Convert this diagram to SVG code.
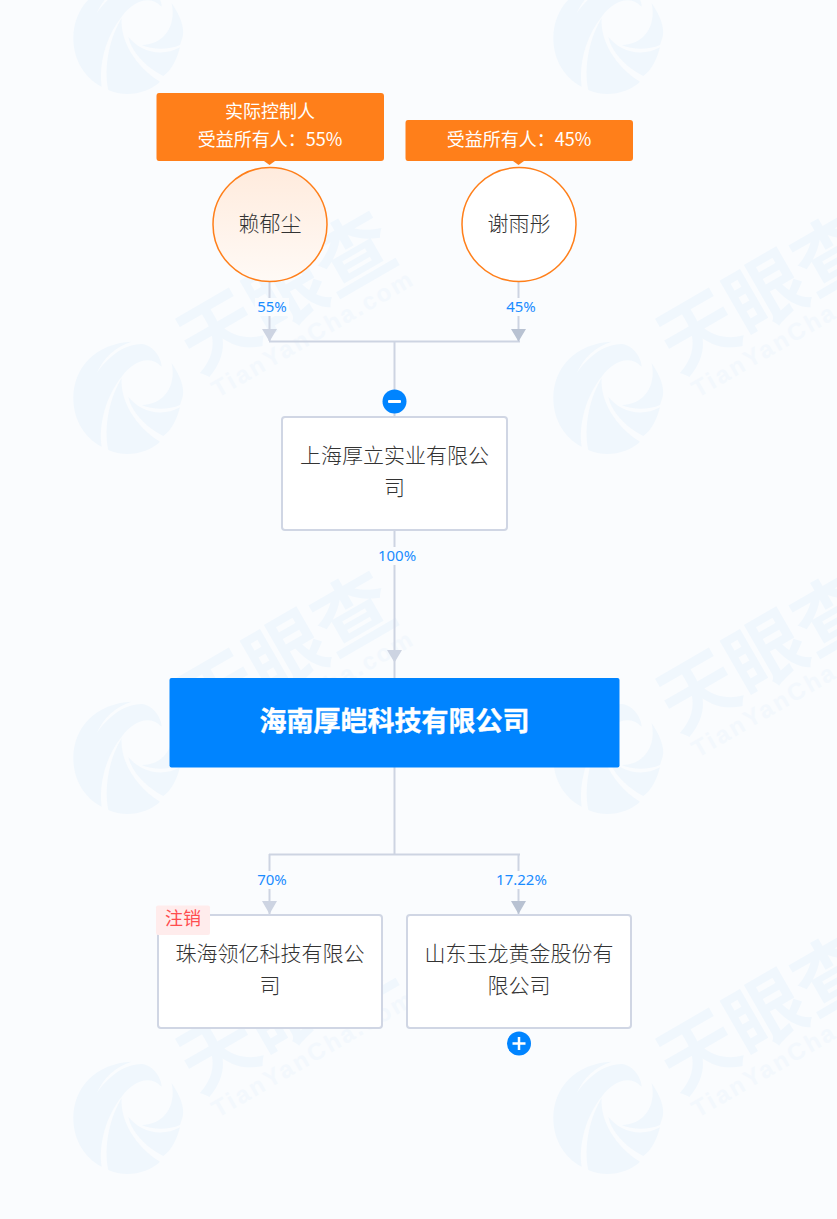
<svg xmlns="http://www.w3.org/2000/svg" width="837" height="1219" viewBox="0 0 837 1219">
<style>
text{font-family:"Microsoft YaHei","Noto Sans CJK SC","Noto Sans",sans-serif;text-anchor:middle}
.n{fill:#fff;stroke:#d0d6e4;stroke-width:2}
.t{font-size:21px;fill:#333;font-weight:300}
.w{font-size:18px;fill:#fff}
.p{font-size:15px;fill:#1a8cff;font-family:"Noto Sans","Noto Sans CJK SC",sans-serif}
.l{fill:none;stroke:#cdd4e2;stroke-width:2}
.a{fill:#cdd4e2}
.a2{fill:#b8c2d2}
.b{fill:#ff7f1a}
.wm1{font-size:78px;font-weight:700;fill:#f0f7fd;font-family:"Noto Sans CJK SC",sans-serif}
.wm2{font-size:24px;font-weight:700;fill:#f3f8fd;letter-spacing:2.600px;font-family:"Liberation Sans",sans-serif}
</style>
<defs>
<linearGradient id="g" x1="0" y1="0" x2="0" y2="1"><stop offset="0" stop-color="#ffebdd"/><stop offset="1" stop-color="#fffaf6"/></linearGradient>
<g id="logo" transform="translate(-68 -68) scale(.3333)" fill="#f0f7fd">
<path d="M215 35C110 40 40 110 40 205C40 270 75 325 125 350C115 280 140 195 185 140C215 100 265 70 305 110C305 85 280 45 245 42C190 42 140 85 110 130C130 85 165 50 215 35Z"/>
<path d="M185 145C180 210 225 290 300 335C265 368 200 385 145 360C130 290 150 200 185 145Z"/>
<path d="M335 100C360 135 375 175 368 200L360 225C325 240 280 240 245 225C310 225 350 170 335 100Z"/>
<path d="M205 200C235 240 300 265 360 232C350 270 335 300 310 318C265 295 215 250 205 200Z"/>
</g>
<g id="word"><text class="wm1" x="0" y="0">天眼查</text><text class="wm2" x="3" y="29">TianYanCha.com</text></g>
</defs>
<rect width="837" height="1219" fill="#fafcfe"/>
<g id="watermark">
<use href="#logo" x="128" y="38"/><use href="#logo" x="608" y="38"/>
<use href="#logo" x="128" y="398"/><use href="#logo" x="608" y="398"/>
<use href="#logo" x="128" y="758"/><use href="#logo" x="608" y="758"/>
<use href="#logo" x="128" y="1118"/><use href="#logo" x="608" y="1118"/>
<use href="#word" transform="translate(300 317) rotate(-30)"/><use href="#word" transform="translate(780 317) rotate(-30)"/>
<use href="#word" transform="translate(300 677) rotate(-30)"/><use href="#word" transform="translate(780 677) rotate(-30)"/>
<use href="#word" transform="translate(300 1037) rotate(-30)"/><use href="#word" transform="translate(780 1037) rotate(-30)"/>
</g>
<g id="connectors">
<path class="l" d="M269.500 281V341M518.500 281V341M269 341.500H520M394.500 341V417M394.500 530V678M394.500 767V855M269 854.500H520M269.500 854V914M518.500 854V914"/>
<path class="a" d="M262 329H277L269.500 341.500ZM387 650H402L394.500 662.500ZM262 901H277L269.500 914Z"/>
<path class="a2" d="M511 329H526L518.500 341.500ZM511 901H526L518.500 914Z"/>
<g class="labels">
<rect x="255" y="298" width="34" height="18" fill="#fafcfe"/><text class="p" x="272" y="312">55%</text>
<rect x="504" y="298" width="34" height="18" fill="#fafcfe"/><text class="p" x="521" y="312">45%</text>
<rect x="375" y="547" width="44" height="18" fill="#fafcfe"/><text class="p" x="397" y="561">100%</text>
<rect x="255" y="871" width="34" height="18" fill="#fafcfe"/><text class="p" x="272" y="885">70%</text>
<rect x="494" y="871" width="56" height="18" fill="#fafcfe"/><text class="p" x="521.500" y="885">17.22%</text>
</g>
</g>
<g id="person1">
<path class="b" d="M159 93H381Q384 93 384 96V158Q384 161 381 161H275L269.500 165L264 161H159Q156.500 161 156.500 158V96Q156.500 93 159 93Z"/>
<text class="w" x="270" y="118">实际控制人</text>
<text class="w" x="270" y="146">受益所有人：55%</text>
<circle cx="270" cy="224.500" r="57" fill="url(#g)" stroke="#ff7f1a" stroke-width="1.500"/>
<text class="t" x="270" y="231">赖郁尘</text>
</g>
<g id="person2">
<path class="b" d="M408 120H630Q633 120 633 123V158Q633 161 630 161H524L518.500 165L513 161H408Q405.500 161 405.500 158V123Q405.500 120 408 120Z"/>
<text class="w" x="519" y="146">受益所有人：45%</text>
<circle cx="519" cy="224.500" r="57" fill="#fff" stroke="#ff7f1a" stroke-width="1.500"/>
<text class="t" x="519" y="231">谢雨彤</text>
</g>
<g id="company-shanghai">
<rect class="n" x="282" y="417" width="225" height="113" rx="3"/>
<text class="t" x="394.500" y="463">上海厚立实业有限公</text>
<text class="t" x="394.500" y="495">司</text>
<circle cx="394.500" cy="401.500" r="12" fill="#0084ff"/>
<rect x="388" y="400" width="13" height="3" rx="1" fill="#fff"/>
</g>
<g id="company-main">
<rect x="169.500" y="678" width="450" height="89.500" rx="2" fill="#0084ff"/>
<text x="394.500" y="731" font-size="27" font-weight="700" fill="#fff" stroke="#fff" stroke-width=".4">海南厚皑科技有限公司</text>
</g>
<g id="company-zhuhai">
<rect class="n" x="158" y="915" width="224" height="113" rx="3"/>
<text class="t" x="270" y="961">珠海领亿科技有限公</text>
<text class="t" x="270" y="993">司</text>
<rect x="156" y="905.500" width="54" height="29.500" rx="2" fill="#ffecec"/>
<text x="183" y="925" font-size="18" fill="#ff4d4f">注销</text>
</g>
<g id="company-shandong">
<rect class="n" x="407" y="915" width="224" height="113" rx="3"/>
<text class="t" x="519" y="961">山东玉龙黄金股份有</text>
<text class="t" x="519" y="993">限公司</text>
<circle cx="519" cy="1043.500" r="12" fill="#0084ff"/>
<path d="M512.500 1043.500H525.500M519 1037V1050" stroke="#fff" stroke-width="2.500" fill="none"/>
</g>
</svg>
